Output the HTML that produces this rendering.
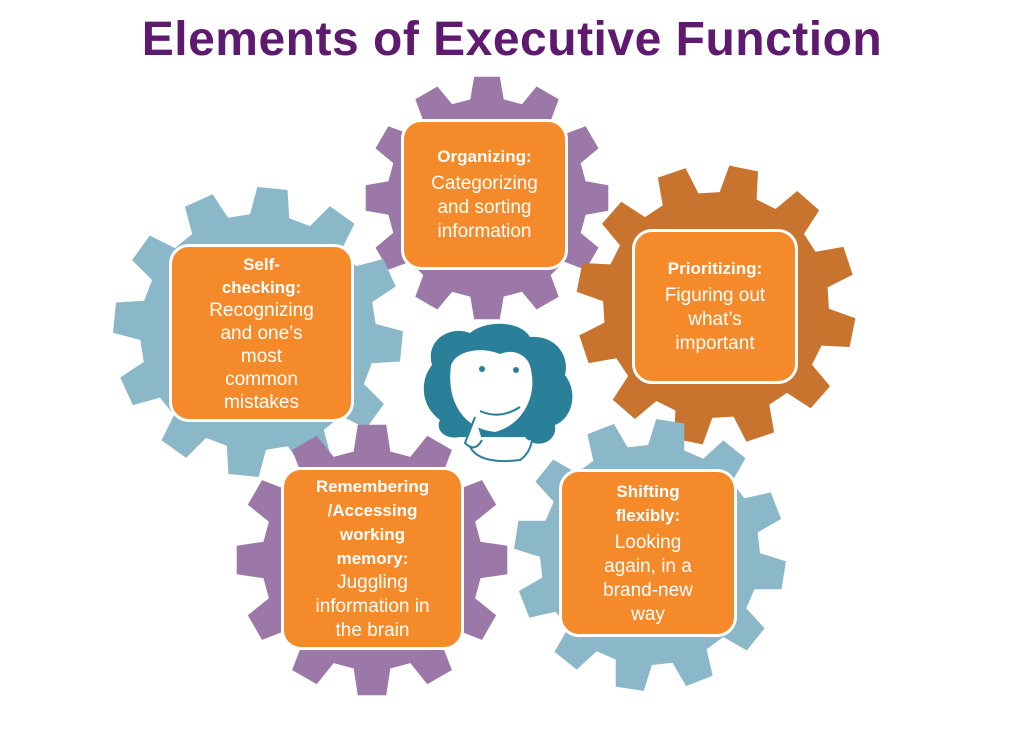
<!DOCTYPE html>
<html><head><meta charset="utf-8"><style>
body{margin:0;width:1024px;height:745px;background:#fff;overflow:hidden;position:relative;font-family:"Liberation Sans",sans-serif}
h1{position:absolute;left:0;width:1024px;top:12px;margin:0;text-align:center;color:#5e1a6f;font-size:48px;font-weight:bold;letter-spacing:0.5px}
.box{position:absolute;background:#f58a2a;border:3px solid #fff;border-radius:20px;color:#fff;text-align:center;box-sizing:border-box;display:flex;flex-direction:column;justify-content:center;font-size:19px;line-height:24px}
.box b{font-size:17px;line-height:24px;display:block;margin-bottom:3px}
svg{position:absolute;left:0;top:0}
</style></head><body>
<svg id="g" width="1024" height="745"></svg>
<h1>Elements of Executive Function</h1>
<div class="box" style="left:401px;top:119px;width:167px;height:151px"><b>Organizing:</b>Categorizing<br>and sorting<br>information</div>
<div class="box" style="left:169px;top:244px;width:185px;height:178px;line-height:23px"><b style="margin:0;line-height:23px">Self-<br>checking:</b>Recognizing<br>and one’s<br>most<br>common<br>mistakes</div>
<div class="box" style="left:632px;top:229px;width:166px;height:155px"><b>Prioritizing:</b>Figuring out<br>what’s<br>important</div>
<div class="box" style="left:281px;top:467px;width:183px;height:183px"><b style="margin:0">Remembering<br>/Accessing<br>working<br>memory:</b>Juggling<br>information in<br>the brain</div>
<div class="box" style="left:559px;top:469px;width:178px;height:168px"><b>Shifting<br>flexibly:</b>Looking<br>again, in a<br>brand-new<br>way</div>
<svg width="1024" height="745" style="pointer-events:none">
<g transform="translate(420,325)">
<path d="M20 95 C0 80 0 55 12 40 C5 15 30 0 50 8 C65 -5 100 -5 110 12 C135 10 150 30 145 50 C160 70 150 95 135 100 C138 118 115 125 105 112 L40 112 C25 115 15 105 20 95Z" fill="#2a7f99"/>
<path d="M30 40 C35 25 60 20 80 28 C95 22 110 30 112 45 C118 70 105 100 75 108 C45 105 25 80 30 40Z" fill="#fff" stroke="#2a7f99" stroke-width="2"/>
<circle cx="62" cy="44" r="3" fill="#2a7f99"/><circle cx="96" cy="45" r="3" fill="#2a7f99"/>
<path d="M60 86 Q80 95 100 82" stroke="#2a7f99" stroke-width="2" fill="none"/>
<path d="M55 92 L45 118 Q55 128 62 115 M50 122 Q60 140 100 135 Q110 128 112 115" stroke="#2a7f99" stroke-width="2" fill="#fff"/>
</g></svg>
<script>
var s=document.getElementById('g'),h='';
function gear(cx,cy,R,r,n,c,rot){var p=[],st=2*Math.PI/n;for(var i=0;i<n;i++){var a=rot+i*st;var pts=[[r,a-st*0.32],[R,a-st*0.2],[R,a+st*0.2],[r,a+st*0.32]];pts.forEach(function(q){p.push((cx+q[0]*Math.cos(q[1])).toFixed(1)+','+(cy+q[0]*Math.sin(q[1])).toFixed(1))});}
h+='<polygon points="'+p.join(' ')+'" fill="'+c+'"/>';}
gear(487,198,122,100,12,'#9b78a8',-Math.PI/2);
gear(258,332,145,118,12,'#8bb8c8',0.1);
gear(716,305,140,113,12,'#c8742f',0.2);
gear(650,555,136,110,12,'#8bb8c8',0.15);
gear(372,560,136,110,12,'#9b78a8',-Math.PI/2);
s.innerHTML=h;
</script>
</body></html>
